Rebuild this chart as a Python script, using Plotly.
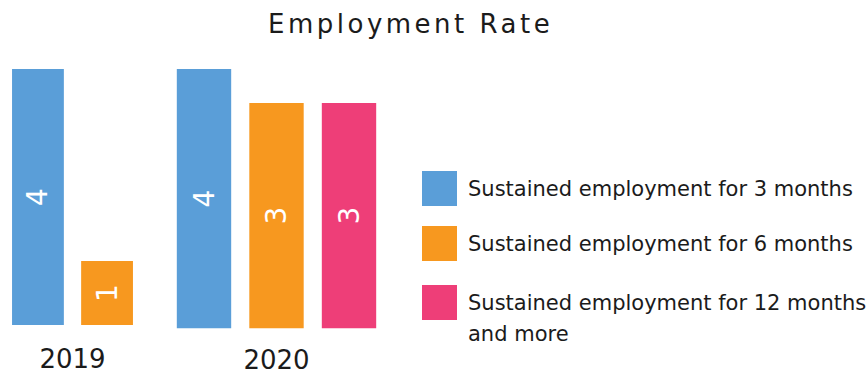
import plotly.graph_objects as go

# --- data -------------------------------------------------------------
years = ["2019", "2020"]
series_names = [
    "Sustained employment for 3 months",
    "Sustained employment for 6 months",
    "Sustained employment for 12 months<br>and more",
]
series_colors = ["#5A9ED8", "#F7981F", "#EE3E78"]
values_3m = [4, 4]
values_6m = [1, 3]
values_12m = [None, 3]
title_text = "Employment Rate"

# --- layout helpers ---------------------------------------------------
W, H = 868, 374
FONT = "DejaVu Sans"
TEXT_COLOR = "#1b1b1b"


def fx(px):
    return px / W


def fy(px):
    return 1 - px / H


series_values = [values_3m, values_6m, values_12m]
axis_suffix = ["", "2"]

fig = go.Figure()

# One subplot per year; only the series that have a value get a bar
for yi, year in enumerate(years):
    for si, name in enumerate(series_names):
        v = series_values[si][yi]
        if v is None:
            continue
        fig.add_trace(
            go.Bar(
                x=[year],
                y=[v],
                name=name,
                marker=dict(color=series_colors[si], line=dict(width=0)),
                xaxis="x" + axis_suffix[yi],
                yaxis="y" + axis_suffix[yi],
                texttemplate="%{y}",
                textposition="inside",
                insidetextanchor="middle",
                textangle=-90,
                textfont=dict(color="white", size=28, family=FONT),
                showlegend=False,
                hoverinfo="skip",
            )
        )

xaxis_common = dict(
    type="category",
    range=[-0.5, 0.5],
    showgrid=False,
    zeroline=False,
    showline=False,
    ticks="",
    tickfont=dict(size=26, family=FONT, color=TEXT_COLOR),
    fixedrange=True,
)
yaxis_common = dict(type="log", visible=False, fixedrange=True)

# Legend drawn as large swatches with labels beside them
swatch_tops = [171, 226, 285]
label_centers = [188.5, 243.5, 303]
LINE_STEP = 31
shapes = []
annotations = []
for i, name in enumerate(series_names):
    shapes.append(
        dict(
            type="rect",
            xref="paper",
            yref="paper",
            x0=fx(422),
            x1=fx(457),
            y0=fy(swatch_tops[i] + 35),
            y1=fy(swatch_tops[i]),
            fillcolor=series_colors[i],
            line=dict(width=0),
        )
    )
    for li, line in enumerate(name.split("<br>")):
        annotations.append(
            dict(
                xref="paper",
                yref="paper",
                x=fx(466),
                y=fy(label_centers[i] + li * LINE_STEP),
                xanchor="left",
                yanchor="middle",
                align="left",
                showarrow=False,
                text=line,
                font=dict(size=21, family=FONT, color=TEXT_COLOR),
            )
        )

annotations.append(
    dict(
        xref="paper",
        yref="paper",
        x=fx(410),
        y=fy(24),
        xanchor="center",
        yanchor="middle",
        showarrow=False,
        text='<span style="letter-spacing:3.5px">' + title_text + "</span>",
        font=dict(size=26, family=FONT, color=TEXT_COLOR),
    )
)

fig.update_layout(
    width=W,
    height=H,
    margin=dict(l=0, r=0, t=0, b=0),
    paper_bgcolor="white",
    plot_bgcolor="white",
    barmode="group",
    bargap=0,
    bargroupgap=0.25,
    showlegend=False,
    xaxis=dict(xaxis_common, domain=[fx(3.4), fx(141.6)], anchor="y",
               ticklabelstandoff=16),
    yaxis=dict(yaxis_common, domain=[fy(325), fy(69)], anchor="x",
               range=[-0.2007, 0.60206]),
    xaxis2=dict(xaxis_common, domain=[fx(167.75), fx(385.25)], anchor="y2",
                ticklabelstandoff=14),
    yaxis2=dict(yaxis_common, domain=[fy(328.3), fy(69)], anchor="x2",
                range=[-0.3509, 0.60206]),
    shapes=shapes,
    annotations=annotations,
)

fig.write_html("out.html")
